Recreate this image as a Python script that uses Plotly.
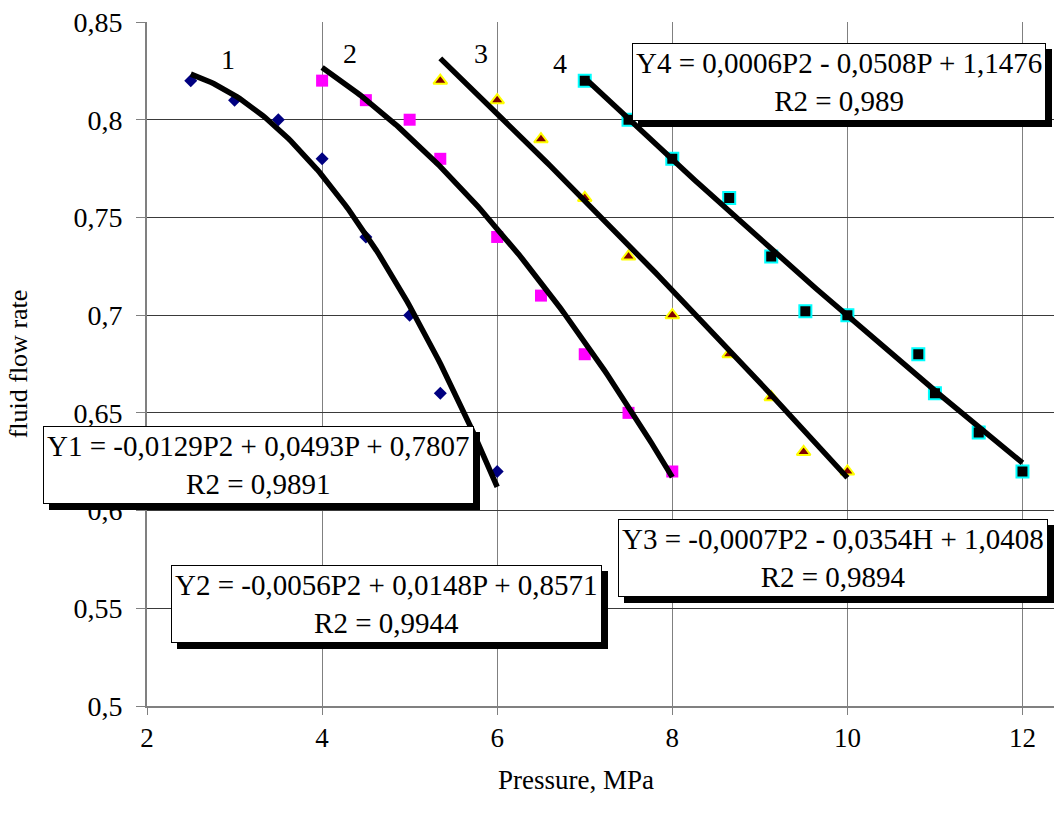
import numpy as np
import plotly.graph_objects as go

# ---- data ----
p1 = [2.5, 3.0, 3.5, 4.0, 4.5, 5.0, 5.35, 6.0]
q1 = [0.82, 0.81, 0.80, 0.78, 0.74, 0.70, 0.66, 0.62]

p2 = [4.0, 4.5, 5.0, 5.35, 6.0, 6.5, 7.0, 7.5, 8.0]
q2 = [0.82, 0.81, 0.80, 0.78, 0.74, 0.71, 0.68, 0.65, 0.62]

p3 = [5.35, 6.0, 6.5, 7.0, 7.5, 8.0, 8.65, 9.13, 9.5, 10.0]
q3 = [0.82, 0.81, 0.79, 0.76, 0.73, 0.70, 0.68, 0.658, 0.63, 0.62]

p4 = [7.0, 7.5, 8.0, 8.65, 9.13, 9.52, 10.0, 10.81, 11.0, 11.5, 12.0]
q4 = [0.82, 0.80, 0.78, 0.76, 0.73, 0.702, 0.70, 0.68, 0.66, 0.64, 0.62]

# trendline coefficients as printed on the chart (a*P^2 + b*P + c)
c1 = [-0.0129, 0.0493, 0.7807]
c2 = [-0.0056, 0.0148, 0.8571]
c3 = [-0.0007, -0.0354, 1.0408]
c4 = [0.0006, -0.0508, 1.1476]

eq_texts = [
    "Y1 = -0,0129P2 + 0,0493P + 0,7807<br>R2 = 0,9891",
    "Y2 = -0,0056P2 + 0,0148P + 0,8571<br>R2 = 0,9944",
    "Y3 = -0,0007P2 - 0,0354H + 1,0408<br>R2 = 0,9894",
    "Y4 = 0,0006P2 - 0,0508P + 1,1476<br>R2 = 0,989",
]
curve_labels = ["1", "2", "3", "4"]

y_tickvals = [0.5, 0.55, 0.6, 0.65, 0.7, 0.75, 0.8, 0.85]
y_ticktext = ["0,5", "0,55", "0,6", "0,65", "0,7", "0,75", "0,8", "0,85"]
x_tickvals = [2, 4, 6, 8, 10, 12]

SERIF = "Liberation Serif, Times New Roman, serif"

fig = go.Figure()

# markers
fig.add_trace(go.Scatter(x=p1, y=q1, mode="markers",
                         marker=dict(symbol="diamond", size=10, color="#000080",
                                     line=dict(width=0))))
fig.add_trace(go.Scatter(x=p2, y=q2, mode="markers",
                         marker=dict(symbol="square", size=12, color="#FF00FF",
                                     line=dict(width=0))))
fig.add_trace(go.Scatter(x=p3, y=q3, mode="markers",
                         marker=dict(symbol="triangle-up", size=12, color="#800000",
                                     line=dict(width=2, color="#FFFF00"))))
fig.add_trace(go.Scatter(x=p4, y=q4, mode="markers",
                         marker=dict(symbol="square", size=12, color="#000000",
                                     line=dict(width=2, color="#00FFFF"))))

# trendlines (polynomial from the printed coefficients)
for pts, coef in [(p1, c1), (p2, c2), (p3, c3), (p4, c4)]:
    xs = np.linspace(min(pts), max(pts), 120)
    ys = np.polyval(coef, xs)
    fig.add_trace(go.Scatter(x=xs, y=ys, mode="lines",
                             line=dict(color="black", width=5.5)))

# equation boxes with drop shadow
box_pos = [(3.268, 0.6233), (4.736, 0.5521), (9.83, 0.5757), (9.90, 0.8193)]
for (bx, by), txt in zip(box_pos, eq_texts):
    common = dict(x=bx, y=by, xref="x", yref="y", text=txt, showarrow=False,
                  align="center", borderwidth=1, borderpad=3)
    fig.add_annotation(**common, font=dict(family=SERIF, size=29, color="black"),
                       bgcolor="black", bordercolor="black", xshift=6, yshift=-6)
    fig.add_annotation(**common, font=dict(family=SERIF, size=29, color="black"),
                       bgcolor="white", bordercolor="black")

# curve number labels
lab_pos = [(2.925, 0.831), (4.32, 0.834), (5.82, 0.834), (6.72, 0.829)]
for (lx, ly), t in zip(lab_pos, curve_labels):
    fig.add_annotation(x=lx, y=ly, xref="x", yref="y", text=t, showarrow=False,
                       font=dict(family=SERIF, size=28, color="black"))

# x-axis title (placed like the reference, slightly left of centre)
fig.add_annotation(x=0.473, y=-0.108, xref="paper", yref="paper",
                   text="Pressure, MPa", showarrow=False, yanchor="middle",
                   font=dict(family=SERIF, size=27, color="black"))

fig.update_layout(
    width=1054, height=814,
    margin=dict(l=147, r=0, t=22, b=108),
    paper_bgcolor="white", plot_bgcolor="white",
    showlegend=False,
    font=dict(family=SERIF, color="black"),
)
fig.update_xaxes(
    range=[2, 12.36], tickvals=x_tickvals,
    showgrid=True, gridcolor="#808080", gridwidth=1,
    showline=True, linecolor="#808080", linewidth=2,
    ticks="outside", ticklen=7, tickcolor="#808080",
    tickfont=dict(family=SERIF, size=27, color="black"),
    zeroline=False,
)
fig.update_yaxes(
    range=[0.5, 0.85], tickvals=y_tickvals, ticktext=y_ticktext,
    showgrid=True, gridcolor="#3a3a3a", gridwidth=1,
    showline=True, linecolor="#808080", linewidth=2,
    ticks="outside", ticklen=9, tickcolor="#808080", ticklabelstandoff=8,
    tickfont=dict(family=SERIF, size=28, color="black"),
    title=dict(text="fluid flow rate", font=dict(family=SERIF, size=26, color="black"),
               standoff=38),
    zeroline=False,
)

fig.write_html("out.html")
